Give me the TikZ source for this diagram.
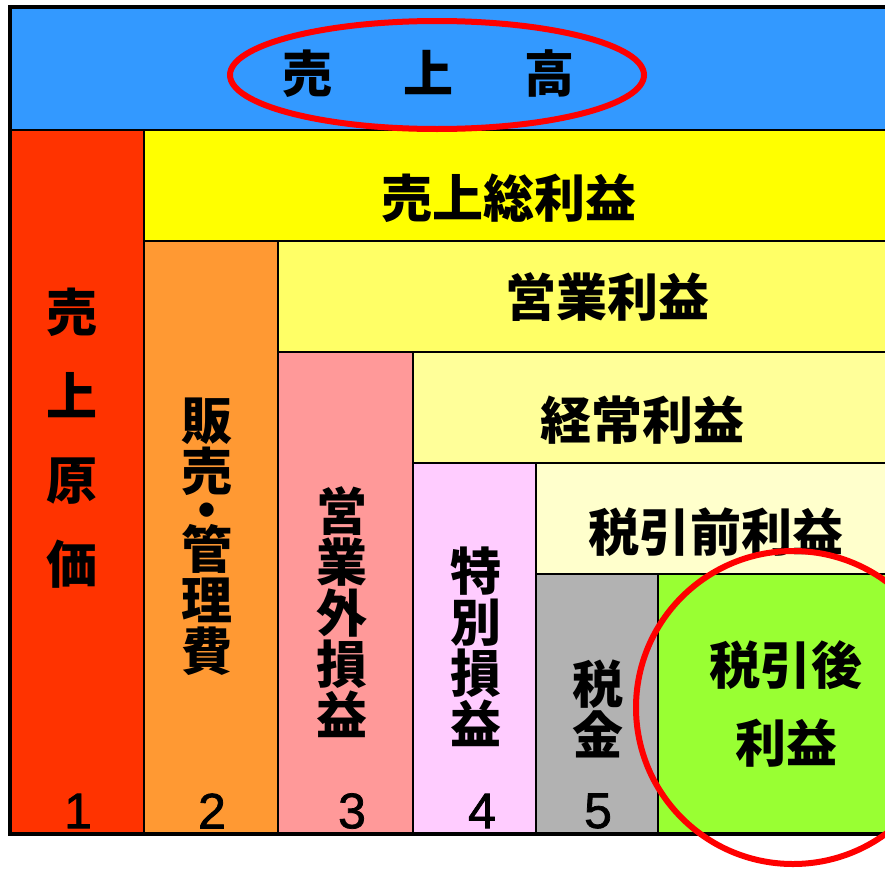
\documentclass[tikz,border=0pt]{standalone}
\usepackage{fontspec}
\newfontfamily\jp{Noto Sans CJK JP}
\newfontfamily\numfont{Liberation Sans}[RawFeature={embolden=1.5}]
\definecolor{cblue}{HTML}{3399FF}
\definecolor{cred}{HTML}{FF3300}
\definecolor{cyellow}{HTML}{FFFF00}
\definecolor{corange}{HTML}{FF9933}
\definecolor{clyellow}{HTML}{FFFF66}
\definecolor{cpink}{HTML}{FF9999}
\definecolor{cpyellow}{HTML}{FFFF99}
\definecolor{clpink}{HTML}{FFCCFF}
\definecolor{ccream}{HTML}{FFFFCC}
\definecolor{cgray}{HTML}{B2B2B2}
\definecolor{cgreen}{HTML}{99FF33}
\definecolor{ringred}{HTML}{FF0000}
\tikzset{
  cell/.style={draw=black, line width=1.2pt},
  lbl/.style={font=\jp\bfseries\fontsize{51}{51}\selectfont, inner sep=0pt, text=black},
  numlbl/.style={font=\numfont\fontsize{50}{50}\selectfont, inner sep=0pt, text=black},
  ring/.style={draw=ringred, line width=6pt},
  frame/.style={draw=black, line width=4pt},
}
\begin{document}
\begin{tikzpicture}[x=1pt,y=-1pt]
\useasboundingbox (0,0) rectangle (885,870);
\clip (0,0) rectangle (885,870);
\fill[white] (0,0) rectangle (885,870);
% cells
\filldraw[cell, fill=cblue]   (10,7)   rectangle (900,130);
\filldraw[cell, fill=cred]    (10,130) rectangle (144,834);
\filldraw[cell, fill=cyellow] (144,130) rectangle (900,241);
\filldraw[cell, fill=corange] (144,241) rectangle (278,834);
\filldraw[cell, fill=clyellow] (278,241) rectangle (900,352);
\filldraw[cell, fill=cpink]   (278,352) rectangle (413,834);
\filldraw[cell, fill=cpyellow] (413,352) rectangle (900,463);
\filldraw[cell, fill=clpink]  (413,463) rectangle (536,834);
\filldraw[cell, fill=ccream]  (536,463) rectangle (900,574);
\filldraw[cell, fill=cgray]   (536,574) rectangle (658,834);
\filldraw[cell, fill=cgreen]  (658,574) rectangle (900,834);
% outer frame
\draw[frame] (900,7) -- (10,7) -- (10,834) -- (900,834);
% horizontal labels
\node[lbl, font=\jp\bfseries\fontsize{50}{50}\selectfont] (uriage) at (428,74) {売\hspace{71pt}上\hspace{71pt}高};
\node[lbl] (sourieki) at (509,198) {売上総利益};
\node[lbl] (eigyo) at (607,297) {営業利益};
\node[lbl] (keijo) at (642,420) {経常利益};
\node[lbl] (zeimae) at (716,532) {税引前利益};
\node[lbl, align=center, font=\jp\bfseries\fontsize{51}{78}\selectfont] (zeigo) at (786,704) {税引後\\利益};
% vertical labels
\node[lbl, align=center, font=\jp\bfseries\fontsize{51}{84}\selectfont] (genka) at (72,438.5) {売\\上\\原\\価};
\node[lbl, align=center, font=\jp\bfseries\fontsize{51}{51}\selectfont] (hanbai) at (207,537) {販\\売\\[-12pt]\smash{・}\\[-12pt]管\\理\\費};
\node[lbl, align=center] (eigyogai) at (342,612.5) {営\\業\\外\\損\\益};
\node[lbl, align=center] (tokubetsu) at (476,647) {特\\別\\損\\益};
\node[lbl, align=center] (zeikin) at (598,708.5) {税\\金};
% numbers
\node[numlbl] (n1) at (78,811) {1};
\node[numlbl] (n2) at (212,811) {2};
\node[numlbl] (n3) at (352,811) {3};
\node[numlbl] (n4) at (482,811) {4};
\node[numlbl] (n5) at (598,811) {5};
% red rings
\draw[ring] (437,75) ellipse [x radius=207pt, y radius=54pt];
\draw[ring] (793,707.5) ellipse [x radius=157pt, y radius=156.5pt];
\end{tikzpicture}
\end{document}
